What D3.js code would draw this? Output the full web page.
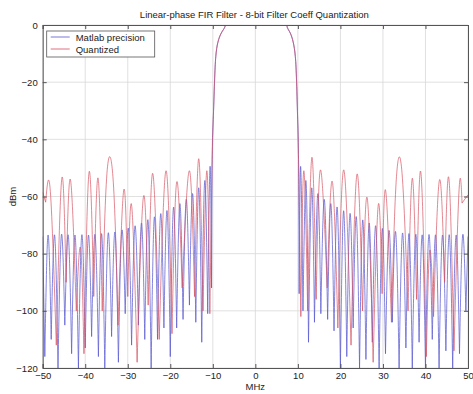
<!DOCTYPE html>
<html>
<head>
<meta charset="utf-8">
<script src="https://cdn.jsdelivr.net/npm/d3@7"></script>
<style>
  body { margin: 0; background: #fff; }
  svg text { font-family: "Liberation Sans", Arial, sans-serif; fill: #222; }
</style>
</head>
<body>
<div id="chart"></div>
<script>
// frequency response: [MHz, dB] vertices (nulls and lobe peaks)
const passband = [
  [-10.15, -47], [-9.9, -33], [-9.6, -20], [-9.3, -11], [-8.8, -6], [-8.0, -2.8],
  [-7.2, -0.8], [-6.5, 0], [-3, 0.4], [0, 0.5], [3, 0.4], [6.8, 0],
  [7.5, -0.8], [8.2, -2.8], [8.9, -6], [9.4, -11], [9.7, -20], [9.95, -33], [10.15, -47]
];

const blueLeft = [
  [-50, -74], [-49.5, -116], [-48.75, -73.5], [-48.0, -110], [-47.2, -73.5], [-46.4, -120],
  [-45.6, -73.4], [-44.8, -105], [-44.0, -73.5], [-43.2, -115], [-42.4, -73.5], [-41.6, -120],
  [-40.8, -73.4], [-40.0, -113], [-39.25, -73.5], [-38.5, -109], [-37.7, -73.3], [-36.9, -116],
  [-36.15, -73], [-35.4, -120], [-34.6, -72.8], [-33.8, -109], [-33.0, -72.5], [-32.2, -118],
  [-31.4, -72], [-30.6, -101], [-29.85, -71.2], [-29.1, -112], [-28.3, -70.3], [-27.5, -105],
  [-26.75, -69.3], [-26.0, -110], [-25.25, -68.2], [-24.5, -120], [-23.75, -67.2], [-23.0, -110],
  [-22.25, -66], [-21.5, -106], [-20.75, -65], [-20.0, -116], [-19.25, -63.8], [-18.5, -106],
  [-17.75, -62.5], [-17.0, -103], [-16.25, -61], [-15.5, -98], [-14.75, -59], [-14.0, -104],
  [-13.3, -57], [-12.6, -111], [-11.9, -54.5], [-11.2, -101], [-10.65, -49.5], [-10.3, -92]
];

const blueRight = [
  [10.3, -94], [10.65, -49.5], [11.2, -100], [11.9, -54.5], [12.5, -111], [13.25, -57],
  [13.9, -104], [14.7, -59], [15.4, -101], [16.2, -61], [17.0, -103], [17.75, -62.5],
  [18.5, -107], [19.25, -63.8], [20.0, -120], [20.75, -65], [21.5, -116], [22.25, -66],
  [23.0, -106], [23.75, -67.2], [24.5, -120], [25.25, -68.2], [26.0, -117], [26.75, -69.3],
  [27.5, -111], [28.3, -70.3], [29.1, -120], [29.85, -71.2], [30.6, -115], [31.4, -72],
  [32.2, -104], [33.0, -72.5], [33.8, -120], [34.6, -72.8], [35.4, -113], [36.15, -73],
  [36.9, -120], [37.7, -73.3], [38.5, -111], [39.25, -73.5], [40.0, -120], [40.8, -73.4],
  [41.6, -110], [42.4, -73.5], [43.2, -120], [44.0, -73.5], [44.8, -114], [45.6, -73.4],
  [46.4, -120], [47.2, -73.5], [48.0, -115], [48.75, -73.5], [49.5, -100], [50, -74]
];

const redLeft = [
  [-50, -58.5], [-49.3, -62], [-48.2, -58.3], [-46.8, -112], [-45.5, -53.6], [-44.5, -90],
  [-43.5, -54], [-42.1, -100], [-41.1, -78], [-40.3, -115], [-39.1, -51.5], [-38.0, -95],
  [-37.0, -53.5], [-36.0, -100], [-34.9, -52], [-33.4, -55], [-32.3, -105], [-30.9, -57.5],
  [-30.0, -95], [-29.1, -63], [-27.8, -118], [-26.3, -60], [-25.2, -98], [-24.1, -52],
  [-22.6, -110], [-21.0, -51], [-19.6, -108], [-18.5, -55], [-17.2, -92], [-15.5, -51],
  [-14.3, -95], [-13.3, -46.8], [-12.3, -100], [-11.4, -51], [-10.7, -101], [-10.3, -60]
];

const redRight = [
  [10.3, -60], [10.7, -102], [11.4, -51], [12.3, -100], [13.3, -46.3], [14.3, -96],
  [15.3, -50.7], [16.9, -92], [18.1, -54.8], [19.4, -106], [20.8, -50.7], [22.5, -112],
  [23.9, -52.2], [25.2, -100], [26.3, -60.5], [27.7, -118], [28.9, -63], [29.8, -94],
  [30.6, -57.7], [32.0, -104], [33.1, -55], [34.5, -52], [35.9, -100], [36.9, -53.6],
  [37.9, -96], [38.9, -51.4], [40.2, -116], [41.0, -79], [41.9, -102], [43.3, -54.2],
  [44.5, -90], [45.5, -53.6], [46.7, -114], [47.9, -57.7], [48.6, -62.3], [50, -59.4]
];

const xTicks = [-50, -40, -30, -20, -10, 0, 10, 20, 30, 40, 50];
const yTicks = [0, -20, -40, -60, -80, -100, -120];
const seriesNames = ["Matlab precision", "Quantized"];
const seriesColors = ["#5656d0", "#d64f5e"];

const W = 473, H = 394;
const margin = { top: 25, right: 5, bottom: 26, left: 42.7 };
const width = W - margin.left - margin.right;
const height = H - margin.top - margin.bottom;

const svg = d3.select("#chart").append("svg")
  .attr("width", W).attr("height", H);

const g = svg.append("g")
  .attr("transform", `translate(${margin.left},${margin.top})`);

const x = d3.scaleLinear().domain([-50, 50]).range([0, width]);
const y = d3.scaleLinear().domain([-120, 0]).range([height, 0]);

// grid
g.append("g").selectAll("line").data(xTicks).join("line")
  .attr("x1", d => x(d)).attr("x2", d => x(d))
  .attr("y1", 0).attr("y2", height)
  .attr("stroke", "#d8d8d8").attr("stroke-width", 0.8);
g.append("g").selectAll("line").data(yTicks).join("line")
  .attr("x1", 0).attr("x2", width)
  .attr("y1", d => y(d)).attr("y2", d => y(d))
  .attr("stroke", "#d8d8d8").attr("stroke-width", 0.8);

g.append("clipPath").attr("id", "clip")
  .append("rect").attr("width", width).attr("height", height);

// each lobe (null -> peak -> null) is drawn as its own natural spline,
// so the tops come out rounded and the nulls stay sharp
const lobe = d3.line()
  .x(d => x(d[0]))
  .y(d => y(Math.max(-121, d[1])))
  .curve(d3.curveNatural);

function lobePath(pts) {
  const cuts = [0];
  for (let i = 1; i < pts.length - 1; i++) {
    if (pts[i][1] < pts[i - 1][1] && pts[i][1] < pts[i + 1][1]) cuts.push(i);
  }
  cuts.push(pts.length - 1);
  let d = "";
  for (let k = 0; k < cuts.length - 1; k++) {
    d += lobe(pts.slice(cuts[k], cuts[k + 1] + 1));
  }
  return d;
}

const plot = g.append("g").attr("clip-path", "url(#clip)");
const blueFull = blueLeft.concat(passband, blueRight);
const redFull = redLeft.concat(passband, redRight);

plot.append("path")
  .attr("fill", "none").attr("stroke", seriesColors[0])
  .attr("stroke-opacity", 0.72).attr("stroke-width", 1)
  .attr("d", lobePath(blueFull));
plot.append("path")
  .attr("fill", "none").attr("stroke", seriesColors[1])
  .attr("stroke-opacity", 0.68).attr("stroke-width", 1)
  .attr("d", lobePath(redFull));

// axes (ticks pointing inward, MATLAB style)
const axB = g.append("g").attr("transform", `translate(0,${height})`)
  .call(d3.axisBottom(x).tickValues(xTicks).tickSize(-4).tickPadding(4));
const axL = g.append("g")
  .call(d3.axisLeft(y).tickValues(yTicks).tickSize(-4).tickPadding(5));
const axT = g.append("g")
  .call(d3.axisTop(x).tickValues(xTicks).tickSize(-4).tickFormat(""));
const axR = g.append("g").attr("transform", `translate(${width},0)`)
  .call(d3.axisRight(y).tickValues(yTicks).tickSize(-4).tickFormat(""));

[axB, axL, axT, axR].forEach(a => {
  a.select(".domain").attr("stroke", "#555");
  a.selectAll(".tick line").attr("stroke", "#555");
  a.selectAll(".tick text").attr("font-size", 9.5).attr("fill", "#222")
    .attr("font-family", "Liberation Sans, Arial, sans-serif");
});

// labels
svg.append("text")
  .attr("x", margin.left + width / 2 - 1).attr("y", 17.5)
  .attr("text-anchor", "middle").attr("font-size", 9.5)
  .text("Linear-phase FIR Filter - 8-bit Filter Coeff Quantization");

svg.append("text")
  .attr("x", margin.left + width / 2).attr("y", 390)
  .attr("text-anchor", "middle").attr("font-size", 9.5)
  .text("MHz");

svg.append("text")
  .attr("transform", `translate(16,${margin.top + height / 2}) rotate(-90)`)
  .attr("text-anchor", "middle").attr("font-size", 9.5)
  .text("dBm");

// legend
const leg = g.append("g").attr("transform", "translate(4,6)");
leg.append("rect").attr("width", 108).attr("height", 26)
  .attr("fill", "#fff").attr("stroke", "#555").attr("stroke-width", 0.8);
seriesNames.forEach((name, i) => {
  const yy = 6 + i * 12;
  leg.append("line").attr("x1", 4).attr("x2", 23).attr("y1", yy).attr("y2", yy)
    .attr("stroke", seriesColors[i]).attr("stroke-opacity", 0.8);
  leg.append("text").attr("x", 29).attr("y", yy + 3.5)
    .attr("font-size", 9.5).text(name);
});
</script>
</body>
</html>
